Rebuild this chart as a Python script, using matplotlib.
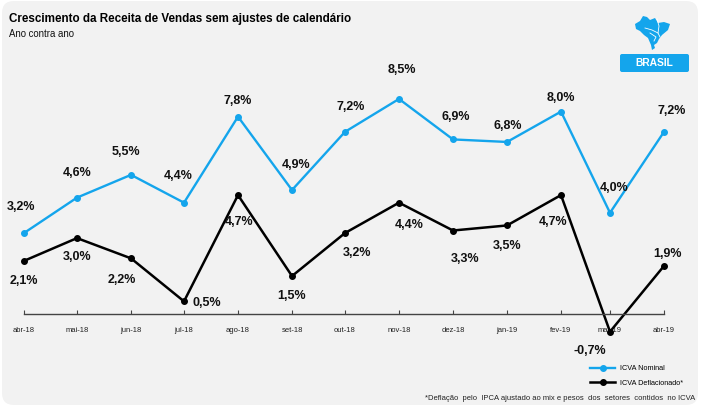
import matplotlib
matplotlib.use("Agg")
import matplotlib.pyplot as plt
from matplotlib.patches import FancyBboxPatch, Polygon
from matplotlib.lines import Line2D

plt.rcParams['font.family'] = ['Liberation Sans', 'DejaVu Sans']

# Dados
meses = ["abr-18", "mai-18", "jun-18", "jul-18", "ago-18", "set-18", "out-18",
         "nov-18", "dez-18", "jan-19", "fev-19", "mar-19", "abr-19"]
nominal = [3.2, 4.6, 5.5, 4.4, 7.8, 4.9, 7.2, 8.5, 6.9, 6.8, 8.0, 4.0, 7.2]
deflacionado = [2.1, 3.0, 2.2, 0.5, 4.7, 1.5, 3.2, 4.4, 3.3, 3.5, 4.7, -0.7, 1.9]

# Posicao de cada mes no eixo (o espacamento do original nao e uniforme)
pos_x = [24, 77, 131, 184, 238, 292, 345, 399, 453, 507, 561, 610, 664]

# Deslocamento dos rotulos em pixels (dx, dy)
desloc_nominal = [(-3, 26), (0, 25), (-5, 23), (-6, 27), (0, 16), (4, 25), (6, 25),
                  (3, 29), (3, 22), (1, 16), (0, 14), (4, 25), (8, 21)]
desloc_deflac = [(0, -20), (0, -19), (-9, -22), (23, -2), (1, -27), (0, -20), (12, -20),
                 (10, -22), (12, -28), (0, -21), (-8, -27), (-20, -19), (3, 12)]

AZUL = "#14A5EC"
W, H = 704, 409

fig = plt.figure(figsize=(W / 100, H / 100), dpi=100, facecolor="white")

# Fundo em coordenadas de pixel
bg = fig.add_axes([0, 0, 1, 1])
bg.set_xlim(0, W)
bg.set_ylim(H, 0)
bg.axis("off")
bg.add_patch(FancyBboxPatch((2, 1), 696, 404, boxstyle="round,pad=0,rounding_size=12", lw=0,
                            facecolor="#F2F2F2", mutation_scale=1))
bg.add_patch(FancyBboxPatch((620, 54), 69, 18, boxstyle="round,pad=0,rounding_size=2", lw=0,
                            facecolor=AZUL, mutation_scale=1))
bg.text(654.5, 63, "BRASIL", color="white", fontsize=7.4, fontweight="bold", ha="center", va="center")

# Mapa do Brasil (icone)
mapa = [(635, 24), (640, 21), (643, 16), (647, 17), (650, 20), (655, 18), (658, 23), (664, 22),
        (670, 24), (668, 30), (662, 35), (659, 39), (657, 43), (654, 45), (655, 48), (652, 50),
        (651, 45), (648, 38), (644, 35), (640, 31), (636, 29)]
bg.add_patch(Polygon(mapa, closed=True, facecolor=AZUL, edgecolor="none"))
bg.add_line(Line2D([657, 659, 658, 660], [19, 26, 33, 37], color="white", lw=0.6))
bg.add_line(Line2D([645, 652, 658], [28, 30, 33], color="white", lw=0.6))
bg.add_line(Line2D([650, 656, 654], [33, 37, 41], color="white", lw=0.6))

bg.text(9, 19, "Crescimento da Receita de Vendas sem ajustes de calendário", fontsize=8.4,
        fontweight="bold", va="center", color="black")
bg.text(9, 34, "Ano contra ano", fontsize=6.9, va="center", color="#111111")
bg.text(695, 398, "*Deflação  pelo  IPCA ajustado ao mix e pesos  dos  setores  contidos  no ICVA",
        fontsize=5.5, ha="right", va="center", color="#222222")

# Grafico: 0 em y=314 px, 25,3 px por ponto percentual
px_esq, px_dir, px_topo, px_base = 24, 664, 70, 345
ax = fig.add_axes([px_esq / W, 1 - px_base / H, (px_dir - px_esq) / W, (px_base - px_topo) / H])
ax.patch.set_alpha(0)
ax.set_xlim(px_esq, px_dir)
ax.set_ylim(-(px_base - 314) / 25.3, (314 - px_topo) / 25.3)

ax.plot(pos_x, nominal, color=AZUL, lw=1.7, marker="o", ms=4, clip_on=False, label="ICVA Nominal")
ax.plot(pos_x, deflacionado, color="black", lw=1.8, marker="o", ms=4, clip_on=False, label="ICVA Deflacionado*")

for i, v in enumerate(nominal):
    ax.annotate(f"{v:.1f}%".replace(".", ","), (pos_x[i], v), xytext=desloc_nominal[i], textcoords="offset pixels",
                ha="center", va="center", fontsize=9, fontweight="bold", color="#111111")
for i, v in enumerate(deflacionado):
    ax.annotate(f"{v:.1f}%".replace(".", ","), (pos_x[i], v), xytext=desloc_deflac[i], textcoords="offset pixels",
                ha="center", va="center", fontsize=9, fontweight="bold", color="#111111")

for lado in ["top", "left", "right"]:
    ax.spines[lado].set_visible(False)
ax.spines["bottom"].set_position(("data", 0))
ax.spines["bottom"].set_color("#444444")
ax.spines["bottom"].set_linewidth(1)
ax.set_yticks([])
ax.set_xticks(pos_x)
ax.set_xticklabels(meses, fontsize=5.5, color="#222222")
ax.tick_params(axis="x", direction="in", length=3, width=0.8, color="#444444", pad=9)

ax.legend(loc="lower left", bbox_to_anchor=(590 / W, 1 - 387 / H), bbox_transform=fig.transFigure,
          frameon=False, fontsize=5.2, handlelength=3.5, handletextpad=0.7, labelspacing=1.08,
          borderpad=0, borderaxespad=0)

fig.savefig("out.png", dpi=100)
